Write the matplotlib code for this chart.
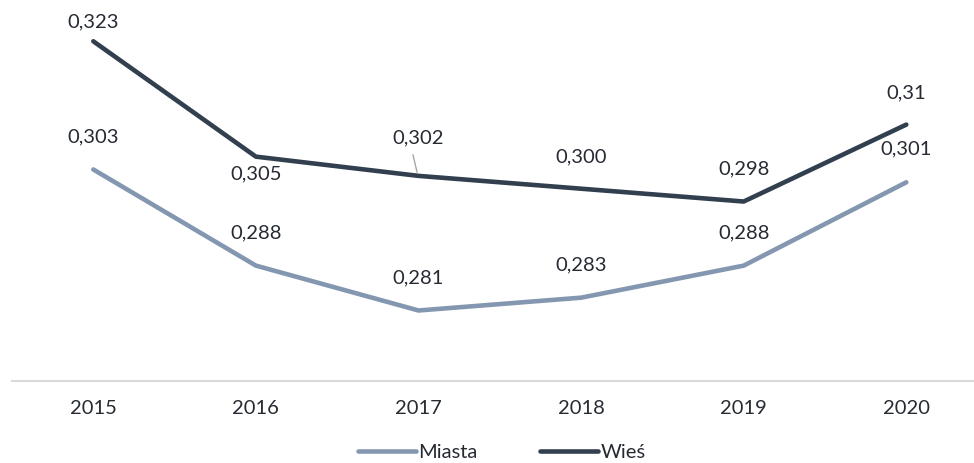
import matplotlib
matplotlib.use("Agg")
import matplotlib.pyplot as plt
from matplotlib.lines import Line2D

years = ["2015", "2016", "2017", "2018", "2019", "2020"]
miasta = [0.303, 0.288, 0.281, 0.283, 0.288, 0.301]
wies = [0.323, 0.305, 0.302, 0.300, 0.298, 0.31]
miasta_labels = ["0,303", "0,288", "0,281", "0,283", "0,288", "0,301"]
wies_labels = ["0,323", "0,305", "0,302", "0,300", "0,298", "0,31"]

plt.rcParams['font.family'] = ['Lato', 'DejaVu Sans']
W, H = 974, 463
fig = plt.figure(figsize=(W / 100, H / 100), dpi=100)
ax = fig.add_axes([12 / W, (H - 381) / H, (W - 12) / W, 381 / H])

c_m = "#8497B0"
c_w = "#323F4F"
txt = "#262b33"
fs = 14.5

x = list(range(len(years)))
ax.plot(x, miasta, color=c_m, lw=3.3, solid_capstyle='round', label="Miasta", zorder=3)
ax.plot(x, wies, color=c_w, lw=3.3, solid_capstyle='round', label="Wieś", zorder=3)

ax.set_xlim(-0.5, (W - 12) / 162.6 - 0.5)
ax.set_ylim(0.27, 0.27 + 381 / 6410)

for i, (v, s) in enumerate(zip(miasta, miasta_labels)):
    ax.annotate(s, (i, v), xytext=(0, 33), textcoords='offset pixels',
                ha='center', va='center', fontsize=fs, color=txt)

wies_off = [19, -17, 38, 32, 33, 32]
for i, (v, s, o) in enumerate(zip(wies, wies_labels, wies_off)):
    ax.annotate(s, (i, v), xytext=(0, o), textcoords='offset pixels',
                ha='center', va='center', fontsize=fs, color=txt)

# leader line for 0,302 label
l = Line2D([413 / W, 417 / W], [1 - 155 / H, 1 - 172 / H], transform=fig.transFigure,
           color="#a6a6a6", lw=1.0)
fig.add_artist(l)

for sp in ["top", "right", "left"]:
    ax.spines[sp].set_visible(False)
ax.spines["bottom"].set_color("#d9d9d9")
ax.spines["bottom"].set_linewidth(1.5)
ax.set_yticks([])
ax.set_xticks(x)
ax.set_xticklabels(years, fontsize=fs, color=txt)
ax.tick_params(axis='x', length=0, pad=14)

leg = fig.legend(loc='center', bbox_to_anchor=(502 / W, 1 - 452 / H), ncol=2,
                 frameon=False, fontsize=fs, handlelength=2.85, handletextpad=0.15,
                 columnspacing=3.1, labelcolor=txt)

fig.savefig("out.png", dpi=100)
